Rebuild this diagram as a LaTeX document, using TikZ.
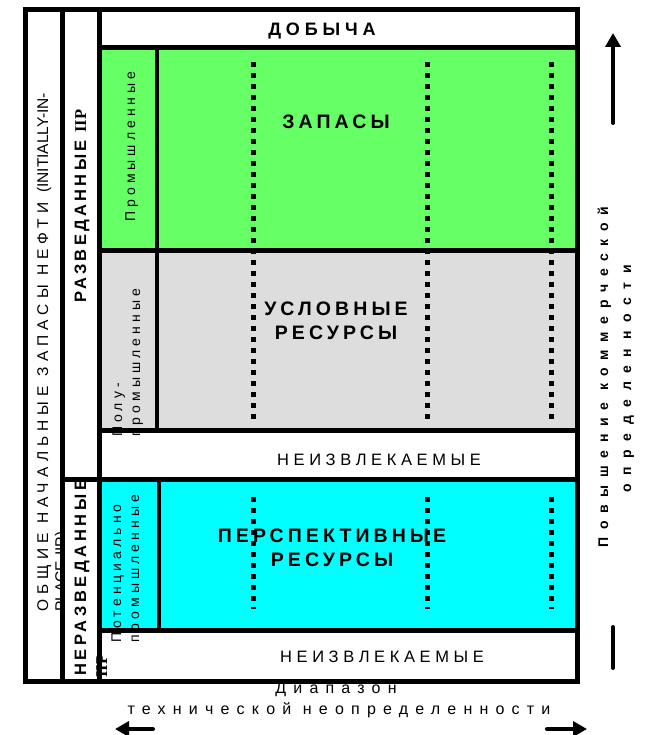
\documentclass[tikz,border=0pt]{standalone}
\usepackage{fontspec}
\setmainfont{Liberation Sans}
\newfontfamily\serifbf{Liberation Serif}
\usetikzlibrary{arrows.meta}
\definecolor{zgreen}{RGB}{102,255,102}
\definecolor{zgray}{RGB}{221,221,221}
\definecolor{zcyan}{RGB}{0,255,255}
\newcommand{\txt}[3]{\fontsize{#1}{#2}\selectfont\addfontfeature{LetterSpace=#3}}

\begin{document}
\begin{tikzpicture}[x=1pt, y=-1pt,
  frame/.style={line width=5pt},
  dots/.style={line width=5pt, dash pattern=on 5pt off 6pt},
  bigtext/.style={font=\bfseries\txt{19.5}{24}{21}, align=center},
  lowtext/.style={font=\txt{16.5}{20}{28}},
  sidetext/.style={font=\txt{14}{18}{29}, rotate=90, anchor=base west, inner sep=0pt},
  rot/.style={rotate=90, anchor=base west, inner sep=0pt},
  fatarrow/.style={line width=4pt, line cap=round, -{Triangle[width=15pt,length=14pt]}}]
\useasboundingbox (0,0) rectangle (648,735);

\draw [frame] (25,9.5) rectangle (62,681);
\node [rot, font=\fontsize{15.5}{18}\selectfont] (totA) at (48,612) {{\addfontfeature{LetterSpace=33}ОБЩИЕ НАЧАЛЬНЫЕ ЗАПАСЫ НЕФТИ }(INITIALLY-IN-};
\node [rot, font=\fontsize{15.5}{18}\selectfont] (totB) at (66,612) {PLACE-IIP)};

\draw [frame, fill=white] (62,9.5) rectangle (99,479);
\draw [frame, fill=white] (62,479) rectangle (99,681);
\draw [frame] (99,9.5) rectangle (577,48);
\draw [frame, fill=zgreen] (99,48) rectangle (577,250);
\draw [frame, fill=zgray] (99,250) rectangle (577,430);
\draw [frame] (99,430) rectangle (577,479);
\draw [frame, fill=zcyan] (99,479) rectangle (577,630);
\draw [frame] (99,630) rectangle (577,681);
\draw [line width=4pt] (157,48) -- (157,430);
\draw [line width=4pt] (159,479) -- (159,630);

\foreach \x in {253,427,551} {
  \draw [dots] (\x,62) -- (\x,421);
  \draw [dots] (\x,497) -- (\x,609);
}

\node [font=\bfseries\txt{18}{18}{27}] (prod) at (322,31) {ДОБЫЧА};
\node [bigtext] (res) at (336,122) {ЗАПАСЫ};
\node [bigtext] (cond) at (336,321) {УСЛОВНЫЕ\\РЕСУРСЫ};
\node [lowtext] (unrecA) at (379,460) {НЕИЗВЛЕКАЕМЫЕ};
\node [bigtext] (prosp) at (332,548) {ПЕРСПЕКТИВНЫЕ\\РЕСУРСЫ};
\node [lowtext] (unrecB) at (382,657) {НЕИЗВЛЕКАЕМЫЕ};

\node [sidetext] (comm) at (135,222) {Промышленные};
\node [sidetext] (semiA) at (122,437) {Полу-};
\node [sidetext] (semiB) at (140,437) {промышленные};
\node [sidetext] (potA) at (121,643) {Потенциально};
\node [sidetext] (potB) at (139,643) {промышленные};

\node [rot, font=\bfseries\fontsize{16.5}{18}\selectfont] (expl) at (86,303) {{\addfontfeature{LetterSpace=20}РАЗВЕДАННЫЕ }{\serifbf\bfseries IIP}};
\node [rot, font=\bfseries\txt{16.5}{18}{22}] (unexpl) at (86,676) {НЕРАЗВЕДАННЫЕ};
\node [rot, font=\serifbf\bfseries\fontsize{16.5}{18}\selectfont] (unexplB) at (107,678) {IIP};

\node [rotate=90, anchor=base, font=\bfseries\txt{14}{14}{55}] (certA) at (608,377) {Повышение коммерческой};
\node [rotate=90, anchor=base, font=\bfseries\txt{14}{14}{62}] (certB) at (631,379) {определенности};
\coordinate (upA) at (613,123);
\coordinate (upB) at (613,33);
\coordinate (dnA) at (613,627);
\coordinate (dnB) at (613,668);
\draw [fatarrow] (upA) -- (upB);
\draw [line width=4pt, line cap=round] (dnA) -- (dnB);

\node [font=\txt{16}{16}{45}] (rangeA) at (336,690) {Диапазон};
\node [font=\txt{16}{16}{45}] (rangeB) at (339,710) {технической неопределенности};
\coordinate (lfA) at (153,729);
\coordinate (lfB) at (115,729);
\coordinate (rtA) at (547,729);
\coordinate (rtB) at (587,729);
\draw [fatarrow] (lfA) -- (lfB);
\draw [fatarrow] (rtA) -- (rtB);

\end{tikzpicture}
\end{document}
